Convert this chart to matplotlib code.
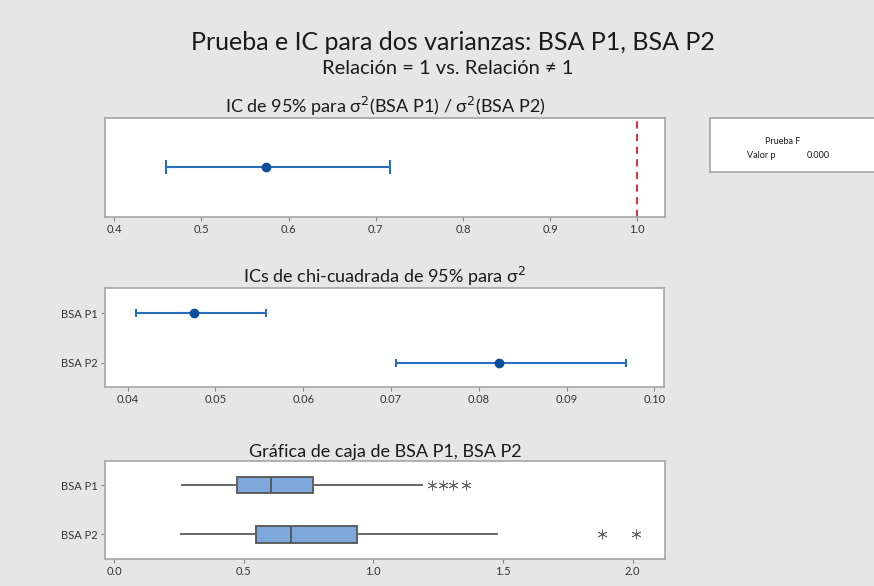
import matplotlib.pyplot as plt
import numpy as np

plt.rcParams["font.family"] = ["Lato", "DejaVu Sans"]

# IC de la relacion de varianzas
ratio_ci = (0.4594, 0.5744, 0.7158)
ratio_ref = 1.0

# ICs chi-cuadrada para sigma^2
groups = ["BSA P1", "BSA P2"]
var_low = [0.0409, 0.0706]
var_est = [0.0475, 0.0823]
var_high = [0.0558, 0.0968]

# resumen de las graficas de caja (whisker bajo, Q1, mediana, Q3, whisker alto)
box_wlo = [0.261, 0.258]
box_q1 = [0.476, 0.547]
box_med = [0.605, 0.682]
box_q3 = [0.769, 0.939]
box_whi = [1.186, 1.478]
outliers = [[1.225, 1.268, 1.308, 1.356], [1.883, 2.014]]

p_value = "0.000"

W, H = 874, 586
bg = "#e6e6e6"
blue_line = "#2a6ebb"
blue_dot = "#0b4f9c"
spine_col = "#a6a6a6"
txt = "#1a1a1a"

fig = plt.figure(figsize=(W / 100, H / 100), dpi=100, facecolor=bg)


def px_axes(l, t, r, b):
    return fig.add_axes([l / W, 1 - b / H, (r - l) / W, (b - t) / H])


def style(ax):
    ax.set_facecolor("white")
    for s in ax.spines.values():
        s.set_color(spine_col)
        s.set_linewidth(1.2)
    ax.tick_params(axis="both", length=3, width=0.8, color="#888888",
                   labelsize=8, labelcolor="#333333", pad=2)


fig.text(453 / W, 1 - 42 / H, "Prueba e IC para dos varianzas: BSA P1, BSA P2",
         ha="center", va="center", fontsize=18, color=txt)
fig.text(448 / W, 1 - 68 / H, "Relación = 1 vs. Relación ≠ 1",
         ha="center", va="center", fontsize=14.5, color=txt)

# panel 1
ax1 = px_axes(105, 117.7, 664.7, 216.7)
style(ax1)
ax1.errorbar([ratio_ci[1]], [0.5],
             xerr=[[ratio_ci[1] - ratio_ci[0]], [ratio_ci[2] - ratio_ci[1]]],
             fmt="o", color=blue_line, mfc=blue_dot, mec=blue_dot, ms=6,
             elinewidth=1.5, capsize=5, capthick=1.5)
ax1.axvline(ratio_ref, color="#d9202a", ls=(0, (4, 3)), lw=1.3)
ax1.set_xlim(0.3893, 1.0315)
ax1.set_ylim(0, 1)
ax1.set_yticks([])
ax1.set_xticks(np.arange(0.4, 1.01, 0.1))
ax1.set_xticklabels(["0.4", "0.5", "0.6", "0.7", "0.8", "0.9", "1.0"])
ax1.set_title("IC de 95% para σ$^2$(BSA P1) / σ$^2$(BSA P2)", fontsize=13,
              color=txt, pad=3)

# panel 2
ax2 = px_axes(105, 288.3, 664.3, 387.3)
style(ax2)
ypos = [0, 1]
for i in range(2):
    ax2.errorbar([var_est[i]], [ypos[i]],
                 xerr=[[var_est[i] - var_low[i]], [var_high[i] - var_est[i]]],
                 fmt="o", color=blue_line, mfc=blue_dot, mec=blue_dot, ms=6,
                 elinewidth=1.5, capsize=3, capthick=1.5)
ax2.set_xlim(0.03741, 0.10114)
ax2.set_ylim(1.5, -0.5)
ax2.set_yticks(ypos)
ax2.set_yticklabels(groups)
ax2.set_xticks(np.arange(0.04, 0.1001, 0.01))
ax2.set_xticklabels(["0.04", "0.05", "0.06", "0.07", "0.08", "0.09", "0.10"])
ax2.set_title("ICs de chi-cuadrada de 95% para σ$^2$", fontsize=13,
              color=txt, pad=3)

# panel 3
ax3 = px_axes(105, 460.7, 665, 559)
style(ax3)
stats = []
for i in range(2):
    stats.append(dict(whislo=box_wlo[i], q1=box_q1[i], med=box_med[i],
                      q3=box_q3[i], whishi=box_whi[i], fliers=outliers[i],
                      label=groups[i]))
ax3.bxp(stats, positions=ypos, vert=False, widths=0.33, patch_artist=True,
        showcaps=False,
        boxprops=dict(facecolor="#7ea8dc", edgecolor="#555555", linewidth=1.3),
        medianprops=dict(color="#555555", linewidth=1.3),
        whiskerprops=dict(color="#666666", linewidth=1.4),
        flierprops=dict(marker=(6, 2, 0), markersize=7, markeredgecolor="#666666",
                        markeredgewidth=0.6, linestyle="none"))
ax3.set_xlim(-0.0347, 2.125)
ax3.set_ylim(1.5, -0.5)
ax3.set_yticks(ypos)
ax3.set_yticklabels(groups)
ax3.set_xticks([0.0, 0.5, 1.0, 1.5, 2.0])
ax3.set_xticklabels(["0.0", "0.5", "1.0", "1.5", "2.0"])
ax3.set_title("Gráfica de caja de BSA P1, BSA P2", fontsize=13,
              color=txt, pad=3)

# cuadro de la prueba F
axl = px_axes(710, 118, 884, 172.3)
axl.set_facecolor("white")
for s in axl.spines.values():
    s.set_color(spine_col)
    s.set_linewidth(1.2)
axl.set_xticks([])
axl.set_yticks([])
axl.set_xlim(710, 884)
axl.set_ylim(172.3, 118)
axl.text(783, 142, "Prueba F", ha="center", va="center", fontsize=6.5, color=txt)
axl.text(761, 155, "Valor p", ha="center", va="center", fontsize=6.5, color=txt)
axl.text(818, 155, p_value, ha="center", va="center", fontsize=6.5, color=txt)

fig.savefig("out.png", dpi=100, facecolor=bg)
